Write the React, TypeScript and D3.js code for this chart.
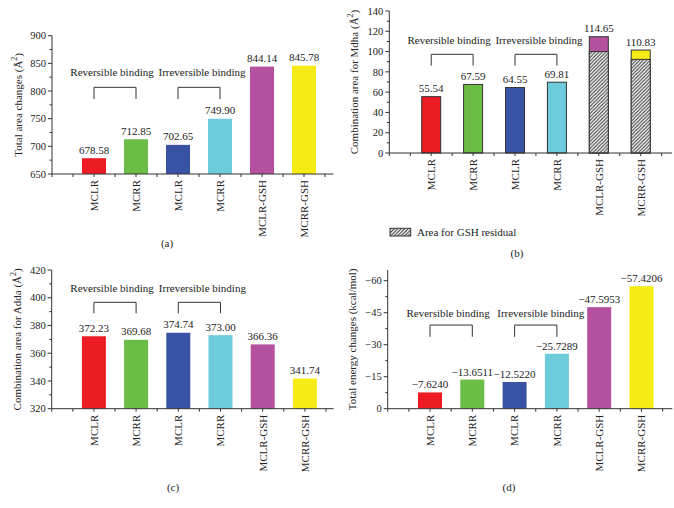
import React from "react";
import * as d3 from "d3";

const categories = ["MCLR", "MCRR", "MCLR", "MCRR", "MCLR-GSH", "MCRR-GSH"];
const barColors = ["#ed1c24", "#6cbd45", "#3953a4", "#6dcbdc", "#b5519f", "#f6eb16"];

const totalArea = [678.58, 712.85, 702.65, 749.9, 844.14, 845.78];
const mdhaArea = [55.54, 67.59, 64.55, 69.81, 114.65, 101.5];
const mdhaLabels = ["55.54", "67.59", "64.55", "69.81", "114.65", "110.83"];
const mdhaGSH = [0, 0, 0, 0, 100, 92.3];
const addaArea = [372.23, 369.68, 374.74, 373.0, 366.36, 341.74];
const energy = [7.624, 13.6511, 12.522, 25.7289, 47.5953, 57.4206];

const groupLabels = ["Reversible binding", "Irreversible binding"];
const legendLabel = "Area for GSH residual";

const FONT = "'Liberation Serif', 'DejaVu Serif', serif";

type PanelProps = {
  x0: number; unit: number; xMax: number;
  yTop: number; yBot: number; domain: [number, number];
  step: number; minor: number;
  values: number[]; labels: string[]; gsh?: number[];
  barW: number; outline?: boolean;
  tickFmt: (v: number) => string;
  yLabel: string;
  yLabelX: number;
  bracket: { text: number; line: number; leg: number };
  caption: string; capX: number; capY: number;
};

function Panel(p: PanelProps) {
  const x = d3.scaleLinear().domain([0, p.xMax]).range([p.x0, p.x0 + p.xMax * p.unit]);
  const y = d3.scaleLinear().domain(p.domain).range([p.yBot, p.yTop]);
  const majors = d3.range(p.domain[0], p.domain[1] + 1e-6, p.step);
  const minors = d3.range(p.domain[0], p.domain[1] + 1e-6, p.minor).filter(
    (v) => !majors.some((m) => Math.abs(m - v) < 1e-6)
  );
  const yTopAxis = y(p.domain[1]);
  const xTicks = d3.range(0, p.xMax + 1e-6, 0.5);
  const brackets = [0, 2];
  return (
    <g>
      {p.values.map((v, i) => {
        const cx = x(i + 1);
        const g = p.gsh ? p.gsh[i] : 0;
        return (
          <g key={i}>
            <rect x={cx - p.barW / 2} y={y(v)} width={p.barW} height={y(p.domain[0]) - y(v)}
              fill={barColors[i]} stroke={p.outline ? "#333" : "none"} strokeWidth={1} />
            {g > 0 && (
              <rect x={cx - p.barW / 2} y={y(g)} width={p.barW} height={y(p.domain[0]) - y(g)}
                fill="url(#hatch)" stroke="#333" strokeWidth={1} />
            )}
            <text x={cx} y={y(v) - 4.5} textAnchor="middle" fontSize={11} fill="#222">{p.labels[i]}</text>
            <text transform={`translate(${cx},${p.yBot + 6}) rotate(-90)`} textAnchor="end" dy="0.35em"
              fontSize={11} fill="#222">{categories[i]}</text>
          </g>
        );
      })}
      {/* axes */}
      <line x1={p.x0} x2={x(p.xMax)} y1={p.yBot} y2={p.yBot} stroke="#333" strokeWidth={1} />
      <line x1={p.x0} x2={p.x0} y1={yTopAxis} y2={p.yBot} stroke="#333" strokeWidth={1} />
      {xTicks.map((t, i) => (
        <line key={"xt" + i} x1={x(t)} x2={x(t)} y1={p.yBot} y2={p.yBot + 3} stroke="#333" />
      ))}
      {majors.map((t, i) => (
        <g key={"yt" + i}>
          <line x1={p.x0 - 4} x2={p.x0} y1={y(t)} y2={y(t)} stroke="#333" />
          <text x={p.x0 - 6} y={y(t)} dy="0.35em" textAnchor="end" fontSize={10.5} fill="#222">{p.tickFmt(t)}</text>
        </g>
      ))}
      {minors.map((t, i) => (
        <line key={"ym" + i} x1={p.x0 - 2.5} x2={p.x0} y1={y(t)} y2={y(t)} stroke="#333" />
      ))}
      <text transform={`translate(${p.yLabelX},${(p.yTop + p.yBot) / 2}) rotate(-90)`} textAnchor="middle"
        fontSize={11} fill="#222">
        {p.yLabel} (Å<tspan fontSize={8} dy={-5}>2</tspan><tspan dy={5}>)</tspan>
      </text>
      {brackets.map((b, k) => {
        const xa = x(b + 1), xb = x(b + 2);
        return (
          <g key={"br" + k}>
            <path d={`M${xa},${y(p.bracket.leg)}V${y(p.bracket.line)}H${xb}V${y(p.bracket.leg)}`}
              fill="none" stroke="#333" strokeWidth={1} />
            <text x={(xa + xb) / 2 + (k === 0 ? -3 : 3)} y={y(p.bracket.text)} textAnchor="middle"
              fontSize={11} fill="#222">{groupLabels[k]}</text>
          </g>
        );
      })}
      <text x={p.capX} y={p.capY} textAnchor="middle" fontSize={11} fill="#222">{p.caption}</text>
    </g>
  );
}

function EnergyLabel({ x0, yTop, yBot }: { x0: number; yTop: number; yBot: number }) {
  return (
    <text transform={`translate(${x0},${(yTop + yBot) / 2}) rotate(-90)`} textAnchor="middle" fontSize={11} fill="#222">
      Total energy changes (kcal/mol)
    </text>
  );
}

export default function App() {
  const fmt2 = (v: number) => v.toFixed(2);
  return (
    <svg width={674} height={508} style={{ position: "absolute", left: 0, top: 0, background: "#fff" }}
      fontFamily={FONT}>
      <defs>
        <pattern id="hatch" patternUnits="userSpaceOnUse" width={3.5} height={3.5}>
          <rect width={3.5} height={3.5} fill="#fff" />
          <path d="M-1,1 l2,-2 M0,3.5 l3.5,-3.5 M2.5,4.5 l2,-2" stroke="#222" strokeWidth={1} />
        </pattern>
      </defs>
      <rect width={674} height={508} fill="#fff" />
      <Panel x0={52} unit={42} xMax={6.7} yTop={35.7} yBot={174} domain={[650, 900]} step={50} minor={25}
        values={totalArea} labels={totalArea.map(fmt2)} barW={24} tickFmt={(v) => String(v)}
        yLabel="Total area changes" yLabelX={22}
        bracket={{ text: 827, line: 806.7, leg: 785.6 }} caption="(a)" capX={167} capY={247} />
      <Panel x0={389.3} unit={41.9} xMax={6.75} yTop={11} yBot={153} domain={[0, 140]} step={20} minor={10}
        values={mdhaArea} labels={mdhaLabels} gsh={mdhaGSH} barW={19} outline tickFmt={(v) => String(v)}
        yLabel="Combination area for Mdha" yLabelX={358}
        bracket={{ text: 107.2, line: 97.3, leg: 86.1 }} caption="(b)" capX={517} capY={257} />
      <Panel x0={51.7} unit={42.2} xMax={6.68} yTop={270} yBot={408.7} domain={[320, 420]} step={20} minor={10}
        values={addaArea} labels={addaArea.map(fmt2)} barW={24} tickFmt={(v) => String(v)}
        yLabel="Combination area for Adda" yLabelX={21}
        bracket={{ text: 403.9, line: 396.7, leg: 388.8 }} caption="(c)" capX={173} capY={491} />
      <PanelD />
      {/* legend */}
      <rect x={390} y={228.3} width={20.7} height={7.7} fill="url(#hatch)" stroke="#333" strokeWidth={1} />
      <text x={417} y={235.5} fontSize={11} fill="#222">{legendLabel}</text>
    </svg>
  );
}

function PanelD() {
  const x0 = 387.7, yTop = 270, yBot = 408.7;
  return (
    <g>
      <PanelNoYLabel />
      <EnergyLabel x0={355.5} yTop={yTop} yBot={yBot} />
    </g>
  );
}

function PanelNoYLabel() {
  const x0 = 387.7, unit = 42.3, xMax = 6.73, yTop = 270, yBot = 408.7;
  const domain: [number, number] = [0, 65];
  const x = d3.scaleLinear().domain([0, xMax]).range([x0, x0 + xMax * unit]);
  const y = d3.scaleLinear().domain(domain).range([yBot, yTop]);
  const majors = d3.range(0, 61, 15);
  const minors = d3.range(7.5, 65, 15);
  const xTicks = d3.range(0, xMax + 1e-6, 0.5);
  const bracket = { text: 43.1, line: 39.2, leg: 33.7 };
  return (
    <g>
      {energy.map((v, i) => {
        const cx = x(i + 1);
        return (
          <g key={i}>
            <rect x={cx - 12} y={y(v)} width={24} height={y(0) - y(v)} fill={barColors[i]} />
            <text x={cx} y={y(v) - 4} textAnchor="middle" fontSize={11} fill="#222">{"\u2212" + v.toFixed(4)}</text>
            <text transform={`translate(${cx},${yBot + 6}) rotate(-90)`} textAnchor="end" dy="0.35em"
              fontSize={11} fill="#222">{categories[i]}</text>
          </g>
        );
      })}
      <line x1={x0} x2={x(xMax)} y1={yBot} y2={yBot} stroke="#333" />
      <line x1={x0} x2={x0} y1={y(65)} y2={yBot} stroke="#333" />
      {xTicks.map((t, i) => (
        <line key={"xt" + i} x1={x(t)} x2={x(t)} y1={yBot} y2={yBot + 3} stroke="#333" />
      ))}
      {majors.map((t, i) => (
        <g key={"yt" + i}>
          <line x1={x0 - 4} x2={x0} y1={y(t)} y2={y(t)} stroke="#333" />
          <text x={x0 - 6} y={y(t)} dy="0.35em" textAnchor="end" fontSize={10.5} fill="#222">
            {t === 0 ? "0" : "\u2212" + t}
          </text>
        </g>
      ))}
      {minors.map((t, i) => (
        <line key={"ym" + i} x1={x0 - 2.5} x2={x0} y1={y(t)} y2={y(t)} stroke="#333" />
      ))}
      {[0, 2].map((b, k) => {
        const xa = x(b + 1), xb = x(b + 2);
        return (
          <g key={"br" + k}>
            <path d={`M${xa},${y(bracket.leg)}V${y(bracket.line)}H${xb}V${y(bracket.leg)}`}
              fill="none" stroke="#333" />
            <text x={(xa + xb) / 2 + (k === 0 ? -3 : 5)} y={y(bracket.text)} textAnchor="middle"
              fontSize={11} fill="#222">{groupLabels[k]}</text>
          </g>
        );
      })}
      <text x={509} y={491} textAnchor="middle" fontSize={11} fill="#222">(d)</text>
    </g>
  );
}
